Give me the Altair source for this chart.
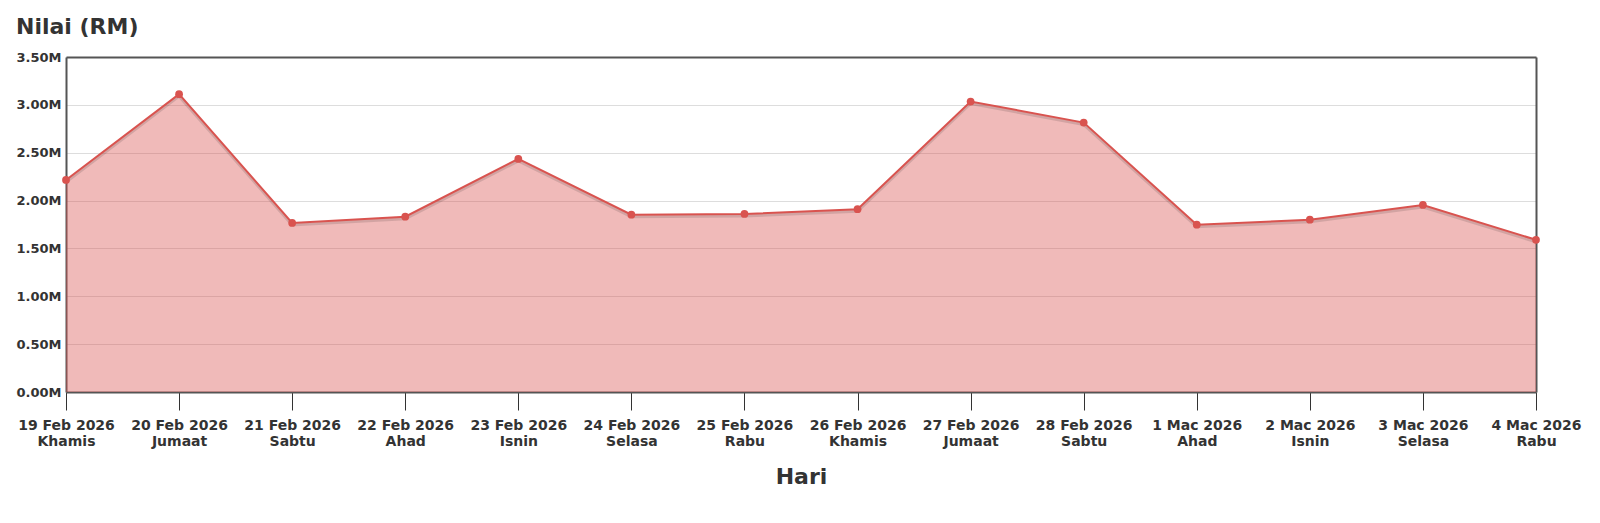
import altair as alt
import pandas as pd

tarikh = ["19 Feb 2026", "20 Feb 2026", "21 Feb 2026", "22 Feb 2026", "23 Feb 2026",
          "24 Feb 2026", "25 Feb 2026", "26 Feb 2026", "27 Feb 2026", "28 Feb 2026",
          "1 Mac 2026", "2 Mac 2026", "3 Mac 2026", "4 Mac 2026"]
hari = ["Khamis", "Jumaat", "Sabtu", "Ahad", "Isnin", "Selasa", "Rabu",
        "Khamis", "Jumaat", "Sabtu", "Ahad", "Isnin", "Selasa", "Rabu"]
nilai = [2215000, 3112000, 1766000, 1832000, 2435000, 1852000, 1860000,
         1910000, 3035000, 2815000, 1748000, 1800000, 1954000, 1590000]
y_ticks = [0, 500000, 1000000, 1500000, 2000000, 2500000, 3000000, 3500000]

df = pd.DataFrame({
    "label": [f"{t}|{h}" for t, h in zip(tarikh, hari)],
    "nilai": nilai,
})

FONT = "DejaVu Sans"
RED = "#d9534f"
FRAME = "#555555"

xscale = alt.Scale(type="point", padding=0)
yscale = alt.Scale(domain=[0, 3500000], nice=False)

x = alt.X("label:O", sort=None, scale=xscale,
          axis=alt.Axis(orient="bottom", title="Hari", labelAngle=0,
                        labelExpr="split(datum.label, '|')",
                        labelFont=FONT, labelFontSize=14, labelFontWeight="bold",
                        labelColor="#333", labelLineHeight=16, labelBaseline="top",
                        labelPadding=8, tickSize=18, tickColor="#333", tickWidth=1,
                        domain=True, domainColor=FRAME, domainWidth=2, grid=False,
                        titleFont=FONT, titleFontSize=22, titleFontWeight="bold",
                        titleColor="#333", titlePadding=18))
y = alt.Y("nilai:Q", scale=yscale,
          axis=alt.Axis(orient="left", title=None, values=y_ticks,
                        labelExpr="format(datum.value / 1000000, '.2f') + 'M'",
                        labelFont=FONT, labelFontSize=13, labelFontWeight="bold",
                        labelColor="#333", labelPadding=5, ticks=False,
                        domain=True, domainColor=FRAME, domainWidth=2,
                        grid=True, gridColor="#dddddd", gridWidth=1))

base = alt.Chart(df).encode(x=x, y=y)

area = base.mark_area(color=RED, opacity=0.4)
shadow = base.mark_line(color="#000000", opacity=0.12, strokeWidth=3, yOffset=2)
line = base.mark_line(color=RED, strokeWidth=2)
pts = base.mark_circle(color=RED, size=60, opacity=1)

main = alt.layer(area, shadow, line, pts)

frame = alt.Chart(df).mark_point(opacity=0).encode(
    x=alt.X("label:O", sort=None, scale=xscale,
            axis=alt.Axis(orient="top", title=None, labels=False, ticks=False,
                          grid=False, domain=True, domainColor=FRAME, domainWidth=2)),
    y=alt.Y("nilai:Q", scale=yscale,
            axis=alt.Axis(orient="right", title=None, labels=False, ticks=False,
                          grid=False, domain=True, domainColor=FRAME, domainWidth=2)),
)

chart = alt.layer(main, frame).resolve_axis(
    x="independent", y="independent"
).properties(
    width=1470, height=335,
    padding={"left": 7, "top": 8, "right": 5, "bottom": 5},
    title=alt.TitleParams("Nilai (RM)", anchor="start", frame="bounds",
                          font=FONT, fontSize=22, fontWeight="bold", color="#333",
                          offset=12),
).configure_view(stroke=None)

chart.save("out.html", embed_options={"renderer": "svg", "actions": False})
